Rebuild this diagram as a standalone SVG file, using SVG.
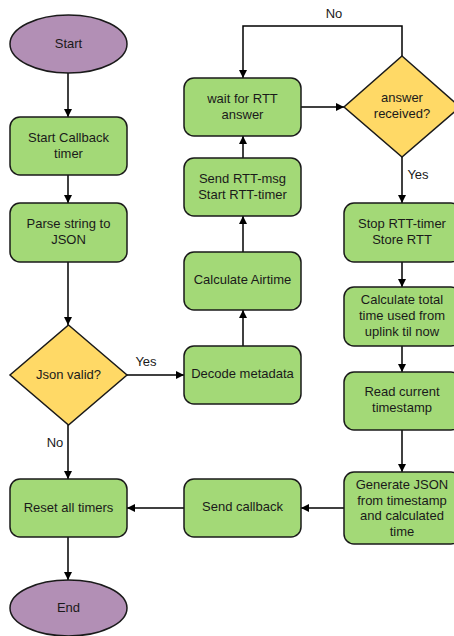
<svg xmlns="http://www.w3.org/2000/svg" width="454" height="636" viewBox="0 0 454 636">
  <defs>
    <marker id="arrow" viewBox="0 0 10 10" refX="10" refY="5" markerWidth="8" markerHeight="8" markerUnits="userSpaceOnUse" orient="auto">
      <path d="M0,0 L10,5 L0,10 z" fill="#000"/>
    </marker>
    <style>
      .proc { fill: #a3d977; stroke: #1a1a1a; stroke-width: 1.5; }
      .term { fill: #b28fb5; stroke: #1a1a1a; stroke-width: 1.5; }
      .dec { fill: #ffd966; stroke: #1a1a1a; stroke-width: 1.5; }
      text { font-family: "Liberation Sans", Arial, sans-serif; font-size: 13px; fill: #1a1a1a; text-anchor: middle; dominant-baseline: central; }
      .conn { fill: none; stroke: #000; stroke-width: 1.5; marker-end: url(#arrow); }
      .lbl { font-size: 13px; }
    </style>
  </defs>

  <rect width="454" height="636" fill="#fff"/>

  <g id="connectors">
    <path class="conn" d="M68,73 V117"/>
    <path class="conn" d="M68,175 V203"/>
    <path class="conn" d="M68,262 V325"/>
    <path class="conn" d="M127,375 H184"/>
    <path class="conn" d="M68,425 V479"/>
    <path class="conn" d="M68,537 V580"/>
    <path class="conn" d="M243,346 V310"/>
    <path class="conn" d="M243,252 V216"/>
    <path class="conn" d="M243,158 V136"/>
    <path class="conn" d="M301,107 H344"/>
    <path class="conn" d="M402,56 V26 H243 V78"/>
    <path class="conn" d="M402,157 V203"/>
    <path class="conn" d="M402,262 V287"/>
    <path class="conn" d="M402,346 V372"/>
    <path class="conn" d="M402,430 V472"/>
    <path class="conn" d="M344,508 H301"/>
    <path class="conn" d="M184,508 H127"/>
    <text class="lbl" x="146" y="361">Yes</text>
    <text class="lbl" x="55" y="442">No</text>
    <text class="lbl" x="334" y="13">No</text>
    <text class="lbl" x="418" y="174">Yes</text>
  </g>

  <g id="start">
    <ellipse class="term" cx="68.5" cy="44" rx="58.5" ry="29"/>
    <text x="68.5" y="43">Start</text>
  </g>

  <g id="start-callback-timer">
    <rect class="proc" x="10" y="117" width="117" height="58" rx="10"/>
    <text x="68.5" y="137">Start Callback</text>
    <text x="68.5" y="153">timer</text>
  </g>

  <g id="parse-string">
    <rect class="proc" x="10" y="203" width="117" height="59" rx="10"/>
    <text x="68.5" y="223">Parse string to</text>
    <text x="68.5" y="239">JSON</text>
  </g>

  <g id="json-valid">
    <polygon class="dec" points="68.5,325 127,375 68.5,425 10,375"/>
    <text x="68.5" y="374">Json valid?</text>
  </g>

  <g id="reset-timers">
    <rect class="proc" x="10" y="479" width="117" height="58" rx="10"/>
    <text x="68.5" y="507">Reset all timers</text>
  </g>

  <g id="end">
    <ellipse class="term" cx="68.5" cy="608" rx="58.5" ry="28"/>
    <text x="68.5" y="607">End</text>
  </g>

  <g id="wait-rtt">
    <rect class="proc" x="184" y="78" width="117" height="58" rx="10"/>
    <text x="242.5" y="98">wait for RTT</text>
    <text x="242.5" y="114">answer</text>
  </g>

  <g id="send-rtt">
    <rect class="proc" x="184" y="158" width="117" height="58" rx="10"/>
    <text x="242.5" y="178">Send RTT-msg</text>
    <text x="242.5" y="194">Start RTT-timer</text>
  </g>

  <g id="calc-airtime">
    <rect class="proc" x="184" y="252" width="117" height="58" rx="10"/>
    <text x="242.5" y="279">Calculate Airtime</text>
  </g>

  <g id="decode-metadata">
    <rect class="proc" x="184" y="346" width="117" height="58" rx="10"/>
    <text x="242.5" y="373">Decode metadata</text>
  </g>

  <g id="send-callback">
    <rect class="proc" x="184" y="479" width="117" height="58" rx="10"/>
    <text x="242.5" y="506">Send callback</text>
  </g>

  <g id="answer-received">
    <polygon class="dec" points="402,56 460,107 402,157 344,107"/>
    <text x="402" y="97">answer</text>
    <text x="402" y="113">received?</text>
  </g>

  <g id="stop-rtt">
    <rect class="proc" x="344" y="203" width="117" height="59" rx="10"/>
    <text x="402" y="223">Stop RTT-timer</text>
    <text x="402" y="239">Store RTT</text>
  </g>

  <g id="calc-total">
    <rect class="proc" x="344" y="287" width="117" height="59" rx="10"/>
    <text x="402" y="299">Calculate total</text>
    <text x="402" y="315">time used from</text>
    <text x="402" y="331">uplink til now</text>
  </g>

  <g id="read-timestamp">
    <rect class="proc" x="344" y="372" width="117" height="58" rx="10"/>
    <text x="402" y="391">Read current</text>
    <text x="402" y="407">timestamp</text>
  </g>

  <g id="generate-json">
    <rect class="proc" x="344" y="472" width="117" height="72" rx="10"/>
    <text x="402" y="484">Generate JSON</text>
    <text x="402" y="500">from timestamp</text>
    <text x="402" y="515">and calculated</text>
    <text x="402" y="531">time</text>
  </g>
</svg>
